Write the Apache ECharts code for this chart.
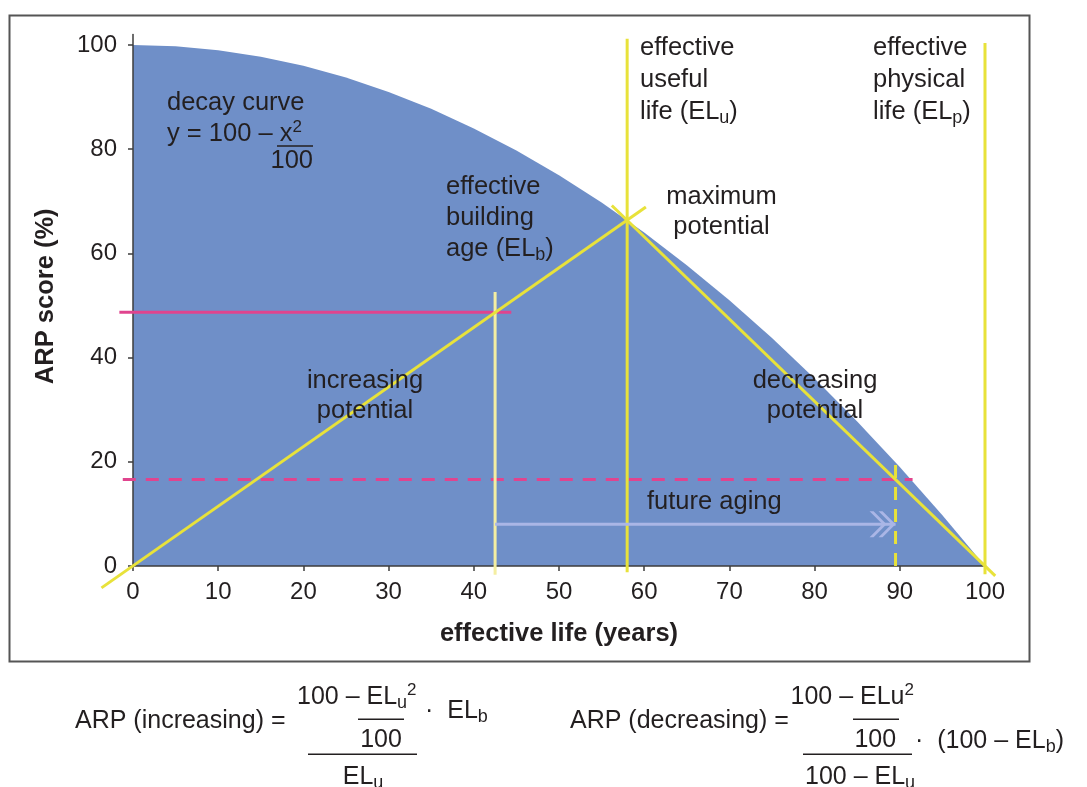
<!DOCTYPE html>
<html><head><meta charset="utf-8">
<script src="https://cdn.jsdelivr.net/npm/echarts@6/dist/echarts.min.js"></script>
<style>html,body{margin:0;padding:0;background:#fff}#c{width:1087px;height:787px}</style>
</head><body><div id="c"></div>
<script>
// ---- data ----
const xTicks = [0, 10, 20, 30, 40, 50, 60, 70, 80, 90, 100];
const yTicks = [0, 20, 40, 60, 80, 100];
const decayX = [0, 5, 10, 15, 20, 25, 30, 35, 40, 45, 50, 55, 60, 65, 70, 75, 80, 85, 90, 95, 100];
const decayY = [100, 99.75, 99, 97.75, 96, 93.75, 91, 87.75, 84, 79.75, 75, 69.75, 64, 57.75, 51, 43.75, 36, 27.75, 19, 9.75, 0];
const increasingLine = [[-3.7, -4.2], [60.2, 68.9]];
const decreasingLine = [[56.2, 69.2], [101.2, -1.9]];
const usefulLife = [[58, -1.2], [58, 101.2]];
const physicalLife = [[100, -1.6], [100, 100.4]];
const buildingAge = [[42.5, -1.7], [42.5, 52.6]];
const futureAgeMark = [[89.5, 0], [89.5, 19.7]];
const currentScore = [[-1.6, 48.7], [44.4, 48.7]];
const futureScore = [[-1.2, 16.6], [91.5, 16.6]];
const agingArrow = [[42.5, 8], [89.5, 8]];

// ---- styles ----
const F = '"Liberation Sans", Arial, Helvetica, sans-serif';
const TXT = '#231f20';
const BLUE = '#6f8fc8';
const YEL = '#e8e23a';
const PALE = '#f4eea2';
const PINK = '#e0448e';
const LAV = '#aab6e6';
const AX = '#3d3d3d';
const CHEVRON = 'path://M0,0L4,0L17,13L4,26L0,26L13,13Z M9,0L13,0L26,13L13,26L9,26L22,13Z';

// a straight segment drawn through the axes' own scales (api.coord), not clipped to the grid
function seg(pts, color, width, dash) {
  return {
    type: 'custom', clip: false, z: 3, silent: true,
    data: [[pts[0][0], pts[0][1], pts[1][0], pts[1][1]]],
    encode: { x: [0, 2], y: [1, 3] },
    renderItem: function (params, api) {
      const a = api.coord([api.value(0), api.value(1)]);
      const b = api.coord([api.value(2), api.value(3)]);
      return { type: 'line', shape: { x1: a[0], y1: a[1], x2: b[0], y2: b[1] },
        style: { stroke: color, lineWidth: width, lineDash: dash || null, lineCap: 'butt', fill: null } };
    }
  };
}

const RICH = {
  sub: { fontSize: 18, fontFamily: F, fill: TXT, verticalAlign: 'bottom', lineHeight: 16 },
  sup: { fontSize: 17, fontFamily: F, fill: TXT, verticalAlign: 'top', lineHeight: 16 }
};
function txt(x, y, text, align, vAlign, lh, size) {
  return { type: 'text', x: x, y: y, silent: true, z: 10,
    style: { text: text, fill: TXT, fontSize: size || 25.5, fontFamily: F,
      align: align || 'left', verticalAlign: vAlign || 'middle', lineHeight: lh || 30, rich: RICH } };
}
function hline(x1, x2, y) {
  return { type: 'line', silent: true, z: 10, shape: { x1: x1, y1: y, x2: x2, y2: y },
    style: { stroke: TXT, lineWidth: 1.5 } };
}

const chart = echarts.init(document.getElementById('c'));
chart.setOption({
  animation: false,
  backgroundColor: '#fff',
  grid: { left: 133, right: 102, top: 34.6, bottom: 221 },
  xAxis: {
    type: 'value', min: 0, max: 100, interval: 10, z: 2,
    axisLine: { show: true, onZero: false, lineStyle: { color: AX, width: 1.5 } },
    axisTick: { show: true, length: 5, customValues: xTicks, lineStyle: { color: AX, width: 1.5 } },
    axisLabel: { customValues: xTicks, fontSize: 24, color: TXT, fontFamily: F, margin: 14 },
    splitLine: { show: false },
    name: 'effective life (years)', nameLocation: 'middle', nameGap: 55,
    nameTextStyle: { fontSize: 25.5, fontWeight: 'bold', color: TXT, fontFamily: F }
  },
  yAxis: {
    type: 'value', min: 0, max: 102, interval: 20, z: 2,
    axisLine: { show: true, lineStyle: { color: AX, width: 1.5 } },
    axisTick: { show: true, length: 5, customValues: yTicks, lineStyle: { color: AX, width: 1.5 } },
    axisLabel: { customValues: yTicks, fontSize: 24, color: TXT, fontFamily: F, margin: 16 },
    splitLine: { show: false },
    name: 'ARP score (%)', nameLocation: 'middle', nameGap: 74, nameRotate: 90,
    nameTextStyle: { fontSize: 25.5, fontWeight: 'bold', color: TXT, fontFamily: F, padding: [0, 0, 0, 8] }
  },
  series: [
    { type: 'line', data: decayX.map(function (x, i) { return [x, decayY[i]]; }), symbol: 'none', z: 1,
      silent: true, lineStyle: { width: 0, opacity: 0 }, areaStyle: { color: BLUE, opacity: 1 } },
    seg(currentScore, PINK, 3),
    seg(futureScore, PINK, 3, [13, 10]),
    seg(buildingAge, PALE, 3),
    seg(increasingLine, YEL, 3),
    seg(decreasingLine, YEL, 3),
    seg(usefulLife, YEL, 3),
    seg(physicalLife, YEL, 3),
    seg(futureAgeMark, YEL, 3, [13, 9]),
    { type: 'line', data: agingArrow, clip: false, z: 3, silent: true, showSymbol: true,
      symbol: function (v, p) { return p.dataIndex === agingArrow.length - 1 ? CHEVRON : 'none'; },
      symbolSize: [26, 26], symbolKeepAspect: true, symbolOffset: [-13, 0],
      itemStyle: { color: LAV, borderWidth: 0 },
      lineStyle: { color: LAV, width: 3, cap: 'butt' } }
  ],
  graphic: { elements: [
    { type: 'rect', silent: true, z: 10, shape: { x: 9.5, y: 15.5, width: 1020, height: 646 },
      style: { fill: 'none', stroke: '#555', lineWidth: 2 } },
    txt(167, 103, 'decay curve'),
    txt(167, 134, 'y = 100 – x{sup|2}'),
    hline(277, 313, 146),
    txt(313, 161, '100', 'right'),
    txt(640, 32.5, 'effective\nuseful\nlife (EL{sub|u})', 'left', 'top', 31.6),
    txt(873, 32.5, 'effective\nphysical\nlife (EL{sub|p})', 'left', 'top', 31.6),
    txt(446, 171, 'effective\nbuilding\nage (EL{sub|b})', 'left', 'top', 31),
    txt(721.5, 181.5, 'maximum\npotential', 'center', 'top', 30),
    txt(365, 366, 'increasing\npotential', 'center', 'top', 30),
    txt(815, 366, 'decreasing\npotential', 'center', 'top', 30),
    txt(647, 502, 'future aging'),
    // formulas
    txt(75, 721.5, 'ARP (increasing) =', 'left', 'middle', 30, 25),
    txt(297, 697, '100 – EL{sub|u}{sup|2}', 'left', 'middle', 30, 25),
    txt(425, 711, '·  EL{sub|b}', 'left', 'middle', 30, 25),
    hline(358, 404, 719.3),
    txt(381, 740, '100', 'center', 'middle', 30, 25),
    hline(308, 417, 754.3),
    txt(363, 777, 'EL{sub|u}', 'center', 'middle', 30, 25),
    txt(570, 721.5, 'ARP (decreasing) =', 'left', 'middle', 30, 25),
    txt(790.5, 697, '100 – ELu{sup|2}', 'left', 'middle', 30, 25),
    hline(853, 899, 719.3),
    txt(875.3, 740, '100', 'center', 'middle', 30, 25),
    hline(803, 912, 754.3),
    txt(915, 741, '·  (100 – EL{sub|b})', 'left', 'middle', 30, 25),
    txt(805, 777, '100 – EL{sub|u}', 'left', 'middle', 30, 25)
  ] }
});
</script></body></html>
